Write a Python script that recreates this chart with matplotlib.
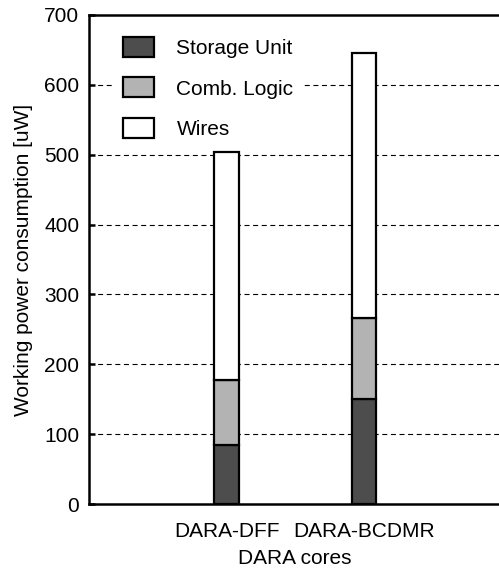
import matplotlib
matplotlib.use("Agg")
import matplotlib.pyplot as plt
import numpy as np

categories = ["DARA-DFF", "DARA-BCDMR"]
storage = [85, 151]
comb = [92, 115]
wires = [327, 380]
series_labels = ["Storage Unit", "Comb. Logic", "Wires"]
yticks = [0, 100, 200, 300, 400, 500, 600, 700]

plt.rcParams['font.family'] = ['Liberation Sans', 'DejaVu Sans']
plt.rcParams['lines.scale_dashes'] = False

W, H = 499, 569
fig = plt.figure(figsize=(W/100, H/100), dpi=100)
left, right, top, bottom = 89, 501.5, 15, 504
ax = fig.add_axes([left/W, 1-bottom/H, (right-left)/W, (bottom-top)/H])

FS = 15
x = np.arange(1, len(categories)+1)
bw = 0.18
ec = 'black'
lw = 1.6
s = np.array(storage); c = np.array(comb); w = np.array(wires)
ax.bar(x, s, bw, color='#4d4d4d', edgecolor=ec, linewidth=lw, label=series_labels[0], zorder=3)
ax.bar(x, c, bw, bottom=s, color='#b3b3b3', edgecolor=ec, linewidth=lw, label=series_labels[1], zorder=3)
ax.bar(x, w, bw, bottom=s+c, color='white', edgecolor=ec, linewidth=lw, label=series_labels[2], zorder=3)

ax.set_xlim(0, 3)
ax.set_ylim(0, 700)
ax.set_yticks(yticks)
ax.set_xticks(x)
ax.set_xticklabels(categories)
for yv in yticks[1:-1]:
    ax.axhline(yv, color='black', linewidth=0.8, linestyle=(0, (3.6, 2.6)), zorder=1)

for sp in ['left', 'top', 'bottom']:
    ax.spines[sp].set_linewidth(1.8)
ax.spines['right'].set_visible(False)
ax.tick_params(axis='y', direction='in', length=4, width=1.8, labelsize=FS, pad=7)
ax.tick_params(axis='x', length=0, labelsize=FS, pad=13)
ax.set_xlabel("DARA cores", fontsize=FS, labelpad=6)
ax.set_ylabel("Working power consumption [uW]", fontsize=FS, labelpad=8)

leg = ax.legend(loc='upper left', bbox_to_anchor=(0.063, 0.972), borderaxespad=0,
                frameon=True, fancybox=False, edgecolor='none', facecolor='white', framealpha=1,
                fontsize=FS, handlelength=1.45, handleheight=1.1, handletextpad=1.1,
                labelspacing=0.93, borderpad=0.4)
leg.set_zorder(2)

fig.savefig("out.png", dpi=100)
